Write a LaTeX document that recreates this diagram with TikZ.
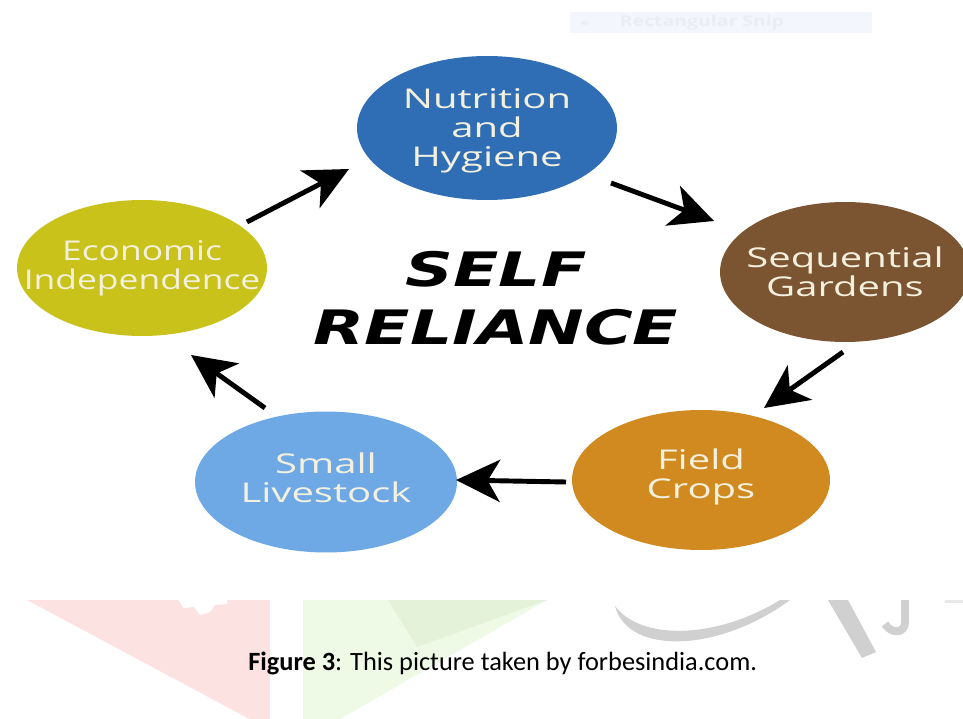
\documentclass[tikz,border=0pt]{standalone}
\usepackage{fontspec}
\setmainfont{Open Sans}
\newfontfamily\circfont[FakeStretch=1.47]{Open Sans}
\newfontfamily\circfontn[FakeStretch=1.3]{Open Sans}
\newfontfamily\titlefont[FakeStretch=1.4]{DejaVu Sans}
\newfontfamily\capfont{Carlito}
\usetikzlibrary{shapes.geometric,arrows.meta}
\definecolor{cblue}{RGB}{47,109,181}
\definecolor{cbrown}{RGB}{123,84,49}
\definecolor{colive}{RGB}{200,194,27}
\definecolor{corange}{RGB}{208,138,31}
\definecolor{clblue}{RGB}{110,169,230}
\definecolor{ctext}{RGB}{244,240,222}
\definecolor{wmpink}{RGB}{253,226,226}
\definecolor{wmgreen}{RGB}{239,250,230}
\definecolor{wmgreenb}{RGB}{229,242,218}
\definecolor{wmgray}{RGB}{208,208,208}
\definecolor{snipbg}{RGB}{243,247,253}
\definecolor{sniptext}{RGB}{234,237,242}
\tikzset{
  blob/.style={ellipse, inner sep=0pt},
  blobtext/.style={align=center, text=ctext, inner sep=0pt,
    font=\fontsize{15.5}{16.5}\circfont\selectfont},
  blobtextn/.style={align=center, text=ctext, inner sep=0pt,
    font=\fontsize{15.5}{16.5}\circfontn\selectfont},
  arr/.style={line width=2.8pt, -{Stealth[length=25pt,width=24pt,inset=7pt]}},
}
\begin{document}
\begin{tikzpicture}[x=0.02cm,y=-0.02cm]
\useasboundingbox (0,0) rectangle (963,719);
\clip (0,0) rectangle (963,719);
\fill[white] (0,0) rectangle (963,719);
% faint screen-snip bar
\fill[snipbg] (570,12) rectangle (872,33);
\fill[sniptext!80!snipbg] (585,23) ellipse [x radius=4, y radius=2.5];
\node[text=sniptext, font=\fontsize{8.5}{10}\circfontn\selectfont\bfseries] (snip) at (702,23) {Rectangular Snip};
% watermark shapes
\fill[wmpink] (27,600) -- (270,600) -- (270,730) -- cycle;
\fill[white] (178,600) -- (184,608) -- (194,607) -- (200,615) -- (210,612) -- (215,605) -- (227,604) -- (227,600) -- cycle;
\fill[wmgreen] (303,600) -- (547,600) -- (340,719) -- (303,719) -- cycle;
\fill[wmgreenb] (388,600) -- (547,600) -- (417,647) -- cycle;
\fill[wmgray] (615,606) .. controls (628,656) and (720,652) .. (790,600) -- (780,600) .. controls (715,640) and (640,640) .. (615,606) -- cycle;
\fill[wmgray] (828,600) -- (848,600) -- (876,652) -- (862,658) -- cycle;
\draw[wmgray, line width=4.5pt] (905,600) -- (905,622) .. controls (905,634) and (891,634) .. (885,624);
\fill[wmgray!50] (945,600) rectangle (963,603);
% circles
\node[blob, fill=cblue, minimum width=5.2cm, minimum height=2.88cm,
  label={[blobtext, yshift=-0.05cm]center:{Nutrition\\and\\Hygiene}}] (nutr) at (487,128) {};
\node[blob, fill=cbrown, minimum width=5.0cm, minimum height=2.8cm,
  label={[blobtext]center:{Sequential\\Gardens}}] (seq) at (845,272) {};
\node[blob, fill=corange, minimum width=5.16cm, minimum height=2.8cm,
  label={[blobtext, yshift=0.06cm]center:{Field\\Crops}}] (field) at (701,480) {};
\node[blob, fill=clblue, minimum width=5.24cm, minimum height=2.82cm,
  label={[blobtext, yshift=0.08cm]center:{Small\\Livestock}}] (small) at (326,482) {};
\node[blob, fill=colive, minimum width=5.0cm, minimum height=2.72cm,
  label={[blobtextn]center:{Economic\\Independence}}] (econ) at (142,268) {};
% title
\node[align=center, font=\fontsize{27}{33}\titlefont\bfseries\itshape\selectfont] (title) at (496,298) {SELF\\RELIANCE};
% arrows
\coordinate (a1s) at (247,222); \coordinate (a1e) at (349,169);
\coordinate (a2s) at (611,183); \coordinate (a2e) at (714,221);
\coordinate (a3s) at (843,352); \coordinate (a3e) at (764,408);
\coordinate (a4s) at (566,482); \coordinate (a4e) at (456,480);
\coordinate (a5s) at (265,408); \coordinate (a5e) at (191,355);
\draw[arr] (a1s) -- (a1e);
\draw[arr] (a2s) -- (a2e);
\draw[arr] (a3s) -- (a3e);
\draw[arr] (a4s) -- (a4e);
\draw[arr] (a5s) -- (a5e);
% caption
\node[anchor=base west, inner sep=0pt, font=\fontsize{15.0}{19}\capfont\selectfont] (cap) at (248,670) {\textbf{Figure 3}: This picture taken by forbesindia.com.};
\end{tikzpicture}
\end{document}
